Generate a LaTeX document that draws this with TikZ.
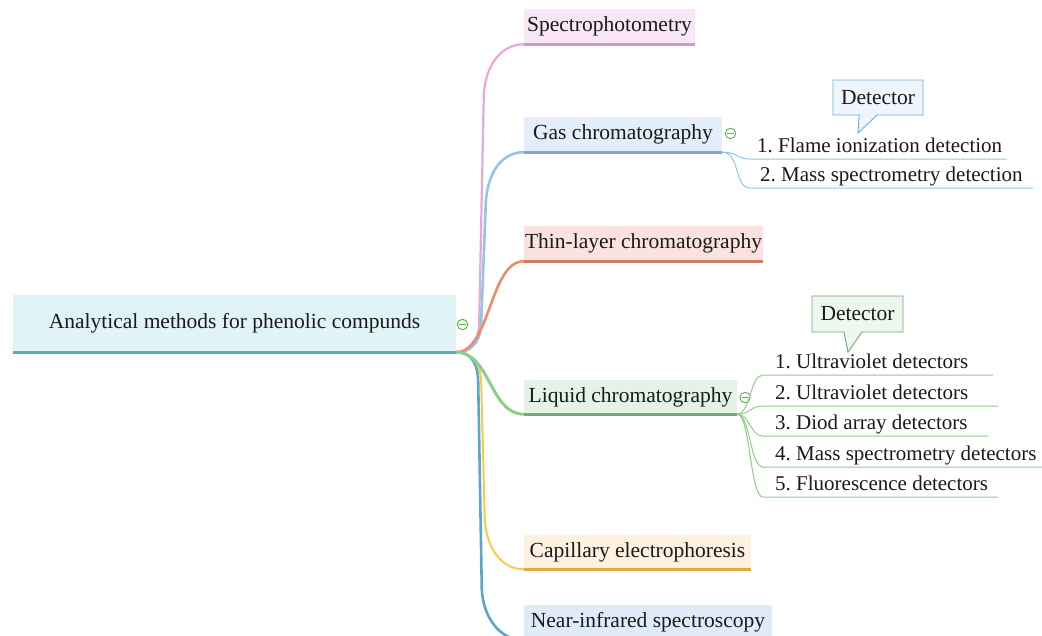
\documentclass[tikz,border=0pt]{standalone}
\usepackage{fontspec}
\setmainfont{Liberation Serif}
\usetikzlibrary{shapes.callouts,calc}
\definecolor{rootfill}{HTML}{E0F3F6}
\definecolor{rootline}{HTML}{55AFB5}
\definecolor{pinkc}{HTML}{EAA8DA}\definecolor{pinkl}{HTML}{D597C7}\definecolor{pinkf}{HTML}{F9E7F6}
\definecolor{bluec}{HTML}{92C5E8}\definecolor{bluel}{HTML}{76ACD6}\definecolor{bluef}{HTML}{E3EEFA}
\definecolor{orac}{HTML}{EE8B6D}\definecolor{oral}{HTML}{D07A68}\definecolor{oraf}{HTML}{FAE3DF}
\definecolor{grnc}{HTML}{8CCF88}\definecolor{grnl}{HTML}{74A877}\definecolor{grnf}{HTML}{E4F3E5}
\definecolor{yelc}{HTML}{F8C94B}\definecolor{yell}{HTML}{E3A93D}\definecolor{yelf}{HTML}{FEF1DF}
\definecolor{tealc}{HTML}{5BA7CB}\definecolor{tealf}{HTML}{DFEBF6}
\definecolor{icongreen}{HTML}{5AB34A}
\definecolor{txt}{HTML}{1A1A1A}
\frenchspacing
\begin{document}
\begin{tikzpicture}[x=1pt,y=-1pt,
  font=\fontsize{21.5}{26}\selectfont, text=txt,
  topic/.style={fill=#1, inner sep=0pt, text height=15pt, text depth=5pt, minimum height=35pt},
  leaf/.style={anchor=south west, inner xsep=#1, inner ysep=1pt, text height=15pt, text depth=5pt, font=\fontsize{21}{25}\selectfont},
  subconn/.style={line width=1pt},
  collapse/.style={circle, draw=icongreen, line width=0.9pt, minimum size=10.5pt, inner sep=0pt},
  minus/.style={draw=icongreen, line width=0.9pt},
  detector/.style={rectangle callout, inner sep=0pt, minimum width=90pt, minimum height=35pt, line width=0.9pt, callout pointer width=18pt}
]
\clip (0,0) rectangle (1042,635);
\fill[white] (0,0) rectangle (1042,635);

% topic nodes
\node[topic=rootfill, minimum width=443pt, minimum height=57pt] (root) at (234.5,323.5) {Analytical methods for phenolic compunds};
\node[topic=pinkf, minimum width=171pt] (spec) at (609.5,26.5) {Spectrophotometry};
\node[topic=bluef, minimum width=198pt] (gas) at (623,134.5) {Gas chromatography};
\node[topic=oraf, minimum width=239pt] (thin) at (643.5,243.5) {Thin-layer chromatography};
\node[topic=grnf, minimum width=213pt, minimum height=34pt] (liq) at (630.5,397) {Liquid chromatography};
\node[topic=yelf, minimum width=227pt, minimum height=34pt] (cap) at (637.5,552) {Capillary electrophoresis};
\node[topic=tealf, minimum width=248pt] (nir) at (648,622.5) {Near-infrared spectroscopy};

% main connectors
\draw[line width=2.6pt, tealc] (root.south east) .. controls +(18,0) and +(0,-14) .. ($(root.south east)+(22,30)$)
  -- ($(nir.south west)+(-42,-50)$) .. controls +(2,30) and +(-22,0) .. (nir.south west);
\draw[line width=2pt, yelc] (root.south east) .. controls +(19,0) and +(0,-14) .. ($(root.south east)+(25,30)$)
  -- ($(cap.south west)+(-39,-50)$) .. controls +(2,30) and +(-22,0) .. (cap.south west);
\draw[line width=2.2pt, pinkc] (root.south east) .. controls +(18,0) and +(0,14) .. ($(root.south east)+(23,-30)$)
  -- ($(spec.south west)+(-40,50)$) .. controls +(2,-30) and +(-22,0) .. (spec.south west);
\draw[line width=2.6pt, bluec] (root.south east) .. controls +(19,0) and +(0,14) .. ($(root.south east)+(25,-30)$)
  -- ($(gas.south west)+(-38,50)$) .. controls +(2,-30) and +(-22,0) .. (gas.south west);
\draw[line width=2.6pt, orac] (root.south east) .. controls +(34,0) and +(-34,0) .. (thin.south west);
\draw[line width=3pt, grnc] (root.south east) .. controls +(34,0) and +(-34,0) .. (liq.south west);

% bottom lines
\draw[line width=3pt, rootline] (root.south west) -- (root.south east);
\draw[line width=3pt, pinkl] (spec.south west) -- (spec.south east);
\draw[line width=3pt, bluel] (gas.south west) -- (gas.south east);
\draw[line width=3pt, oral] (thin.south west) -- (thin.south east);
\draw[line width=3pt, grnl] (liq.south west) -- (liq.south east);
\draw[line width=3pt, yell] (cap.south west) -- (cap.south east);
\draw[line width=3pt, tealc] (nir.south west) -- (nir.south east);

% collapse icons
\node[collapse] (c0) at (462.5,324.5) {};
\draw[minus] ([xshift=2.5pt]c0.west) -- ([xshift=-2.5pt]c0.east);
\node[collapse] (c1) at (730.5,133.5) {};
\draw[minus] ([xshift=2.5pt]c1.west) -- ([xshift=-2.5pt]c1.east);
\node[collapse] (c2) at (745,397.5) {};
\draw[minus] ([xshift=2.5pt]c2.west) -- ([xshift=-2.5pt]c2.east);

% gas chromatography detectors
\node[leaf=7pt] (g1) at (750,159) {1. Flame ionization detection};
\coordinate (g1e) at (1007,159);
\node[leaf=10pt] (g2) at (750,188) {2. Mass spectrometry detection};
\coordinate (g2e) at (1033,188);
\draw[subconn, bluec] (gas.south east) .. controls +(16,0) and +(-14,0) .. (g1.south west) -- (g1e);
\draw[subconn, bluec] (gas.south east) .. controls +(18,0) and +(-16,0) .. (g2.south west) -- (g2e);
\node[detector, draw=bluel, fill=bluef!60, callout absolute pointer={(858,133)}] (gdet) at (878,97.5) {Detector};

% liquid chromatography detectors
\node[leaf=12pt] (l1) at (763,375) {1. Ultraviolet detectors};
\coordinate (l1e) at (993,375);
\node[leaf=12pt] (l2) at (763,406) {2. Ultraviolet detectors};
\coordinate (l2e) at (998,406);
\node[leaf=12pt] (l3) at (763,436) {3. Diod array detectors};
\coordinate (l3e) at (988,436);
\node[leaf=12pt] (l4) at (763,467) {4. Mass spectrometry detectors};
\coordinate (l4e) at (1050,467);
\node[leaf=12pt] (l5) at (763,497) {5. Fluorescence detectors};
\coordinate (l5e) at (998,497);
\foreach \n in {l1,l2,l3,l4,l5}
  \draw[subconn, grnc] (liq.south east) .. controls +(13,0) and +(-13,0) .. (\n.south west) -- (\n e);
\node[detector, draw=grnl, fill=grnf!70, minimum width=91pt, minimum height=36pt, callout absolute pointer={(848,352)}] (ldet) at (857.5,314) {Detector};
\end{tikzpicture}
\end{document}
